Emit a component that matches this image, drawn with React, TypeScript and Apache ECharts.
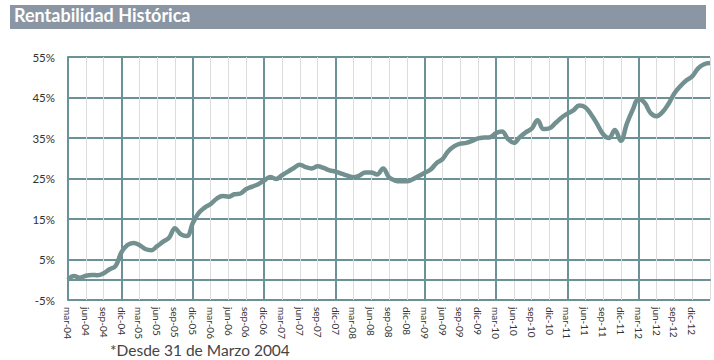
import React, { useEffect, useRef } from "react";
import * as echarts from "echarts";

const monthNames = ["ene", "feb", "mar", "abr", "may", "jun", "jul", "ago", "sep", "oct", "nov", "dic"];
const startYear = 2004;
const startMonth = 2; // mar
const monthCount = 109; // mar-04 .. mar-13

const categories: string[] = [];
for (let i = 0; i < monthCount; i++) {
  const mi = startMonth + i;
  const y = startYear + Math.floor(mi / 12);
  categories.push(`${monthNames[mi % 12]}-${String(y % 100).padStart(2, "0")}`);
}

// Rentabilidad acumulada (%) mensual
const returns: number[] = [
  0.0, 0.9, 0.5, 1.0, 1.2, 1.1, 1.6, 2.6, 3.4, 6.8,
  8.6, 9.1, 8.6, 7.6, 7.3, 8.3, 9.4, 10.4, 12.7, 11.2,
  10.8, 14.0, 16.5, 17.8, 18.7, 20.0, 20.7, 20.5, 21.1, 21.3,
  22.4, 23.0, 23.6, 24.5, 25.4, 24.9, 25.8, 26.7, 27.6, 28.4,
  27.8, 27.5, 28.0, 27.6, 27.0, 26.7, 26.2, 25.7, 25.3, 25.7,
  26.5, 26.5, 26.0, 27.5, 25.3, 24.5, 24.3, 24.3, 24.8, 25.6,
  26.4, 27.2, 28.8, 29.8, 31.8, 33.0, 33.6, 33.8, 34.3, 34.9,
  35.1, 35.2, 36.2, 36.6, 34.8, 33.8, 35.2, 36.4, 37.3, 39.4,
  37.2, 37.4, 38.7, 40.0, 41.0, 41.8, 43.0, 42.6, 40.8, 38.5,
  36.0, 35.0, 37.0, 34.3, 38.5, 42.0, 44.6, 43.7, 41.2, 40.4,
  41.4, 43.4, 46.0, 47.8, 49.2, 50.2, 52.2, 53.2, 53.5,
];

const yTicks = { min: -5, max: 55, interval: 10 };
const majorVerticals = ["dic-04", "dic-05", "dic-06", "dic-07", "mar-09", "mar-10", "mar-11", "mar-12"];
const extraHorizontal = [0];

const titleText = "Rentabilidad Histórica";
const footnote = "*Desde 31 de Marzo 2004";

const TEAL = "#6b9296";
const LINE = "#72908f";

export default function App() {
  const ref = useRef<HTMLDivElement>(null);
  useEffect(() => {
    if (!ref.current) return;
    const chart = echarts.init(ref.current, undefined, { renderer: "svg" });
    chart.setOption({
      animation: false,
      backgroundColor: "#ffffff",
      grid: { left: 68, right: 4, top: 57, bottom: 60, containLabel: false },
      graphic: [
        { type: "rect", left: 10, top: 5, shape: { width: 696, height: 24 }, style: { fill: "#8a96a3" } },
        {
          type: "text", left: 14, top: 6,
          style: { text: titleText, fill: "#ffffff", font: "bold 18px Lato, 'Open Sans', sans-serif" },
        },
        {
          type: "text", left: 110, top: 342,
          style: { text: footnote, fill: "#444444", font: "15.5px Lato, 'Open Sans', sans-serif" },
        },
      ],
      xAxis: {
        type: "category",
        data: categories,
        boundaryGap: false,
        axisLine: { show: true, lineStyle: { color: TEAL, width: 2 } },
        axisTick: { show: false },
        axisLabel: {
          interval: (i: number) => i % 3 === 0 && i < monthCount - 1,
          rotate: -90,
          margin: 7,
          fontSize: 10,
          fontFamily: "Lato, 'Open Sans', sans-serif",
          color: "#333333",
        },
        splitLine: {
          show: true,
          interval: (i: number) => i % 3 === 0,
          lineStyle: { color: "#dcdcdc", width: 1 },
        },
      },
      yAxis: {
        type: "value",
        min: yTicks.min,
        max: yTicks.max,
        interval: yTicks.interval,
        axisLine: { show: true, lineStyle: { color: TEAL, width: 2 } },
        axisTick: { show: false },
        axisLabel: {
          formatter: (v: number) => `${v}%`,
          margin: 13,
          fontSize: 11.5,
          fontFamily: "Lato, 'Open Sans', sans-serif",
          color: "#333333",
        },
        splitLine: { show: true, lineStyle: { color: TEAL, width: 2 } },
      },
      series: [
        {
          type: "line",
          data: returns,
          smooth: 0.4,
          showSymbol: false,
          symbol: "none",
          lineStyle: { color: LINE, width: 4.5 },
          z: 5,
          markLine: {
            silent: true,
            symbol: "none",
            label: { show: false },
            lineStyle: { color: TEAL, width: 2, type: "solid" },
            data: [
              ...majorVerticals.map((c) => ({ xAxis: c })),
              ...extraHorizontal.map((v) => ({ yAxis: v })),
            ],
            z: 1,
          },
        },
      ],
    });
    return () => chart.dispose();
  }, []);
  return <div ref={ref} style={{ width: 714, height: 360, position: "absolute", left: 0, top: 0 }} />;
}
